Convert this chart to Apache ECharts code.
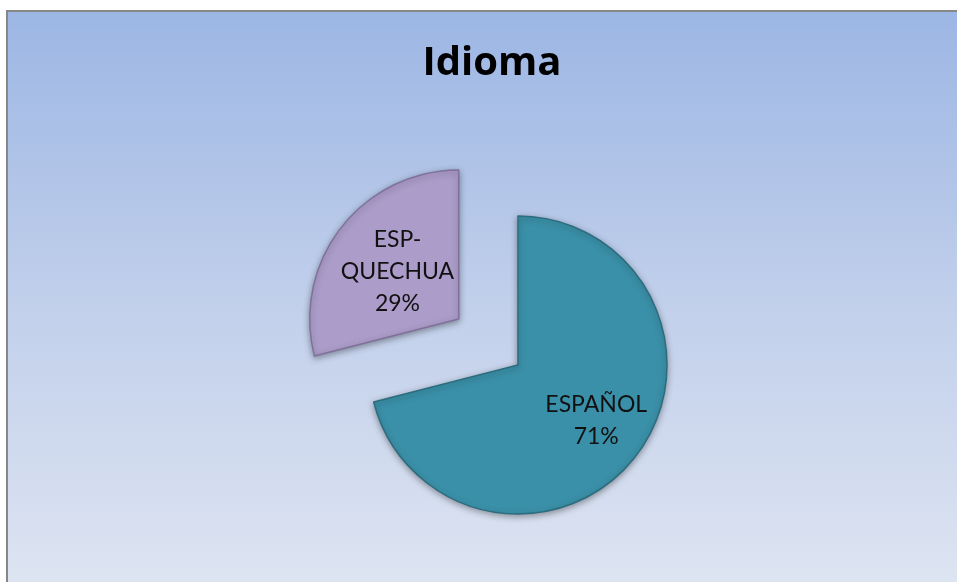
<!DOCTYPE html>
<html>
<head>
<meta charset="utf-8">
<script src="https://cdn.jsdelivr.net/npm/echarts@6/dist/echarts.min.js"></script>
<style>
html, body { margin: 0; padding: 0; background: #fff; }
#chart { width: 957px; height: 582px; }
</style>
</head>
<body>
<div id="chart"></div>
<script>
var titleText = 'Idioma'
var names = ['ESPAÑOL', 'ESP-QUECHUA']
var values = [71, 29]
var colors = ['#3a90a8', '#ab9cc9']
var borders = ['#2b6c7e', '#7f7199']

var data = []
for (var i = 0; i < names.length; i++) {
    data.push({
        name: names[i],
        value: values[i],
        selected: i == 1, // la porción separada
        itemStyle: {
            color: colors[i],
            borderColor: borders[i]
        },
        label: {
            offset: i == 0 ? [17, 8] : [-14, 0]
        }
    })
}

var option = {
    animation: false,
    backgroundColor: '#fff',
    graphic: [{
        type: 'rect',
        z: -10,
        silent: true,
        shape: { x: 7, y: 11, width: 980, height: 600 },
        style: {
            fill: {
                type: 'linear', x: 0, y: 0, x2: 0, y2: 1,
                colorStops: [
                    { offset: 0, color: '#9cb6e4' },
                    { offset: 0.5, color: '#c2d0eb' },
                    { offset: 1, color: '#e0e6f2' }
                ]
            },
            stroke: '#878787',
            lineWidth: 2
        }
    }],
    title: {
        text: titleText,
        left: 487,
        top: 39,
        textAlign: 'center',
        textStyle: {
            fontFamily: 'Open Sans',
            fontWeight: 'bold',
            fontSize: 40,
            color: '#000'
        }
    },
    series: [{
        type: 'pie',
        center: [518, 365],
        radius: 149,
        startAngle: 90,
        clockwise: true,
        selectedMode: 'single',
        selectedOffset: 75,
        data: data,
        itemStyle: {
            borderWidth: 1.5,
            shadowBlur: 6,
            shadowOffsetY: 2,
            shadowColor: 'rgba(0,0,0,0.35)'
        },
        label: {
            show: true,
            position: 'inside',
            fontFamily: 'Lato',
            fontSize: 23,
            lineHeight: 32,
            color: '#111',
            align: 'center',
            formatter: function(p) {
                return p.name.replace('-', '-\n') + '\n' + p.percent + '%'
            }
        },
        labelLine: { show: false },
        emphasis: { disabled: true },
        select: { itemStyle: { borderWidth: 1.5 } }
    }]
}
echarts.init(document.getElementById('chart')).setOption(option)
</script>
</body>
</html>
